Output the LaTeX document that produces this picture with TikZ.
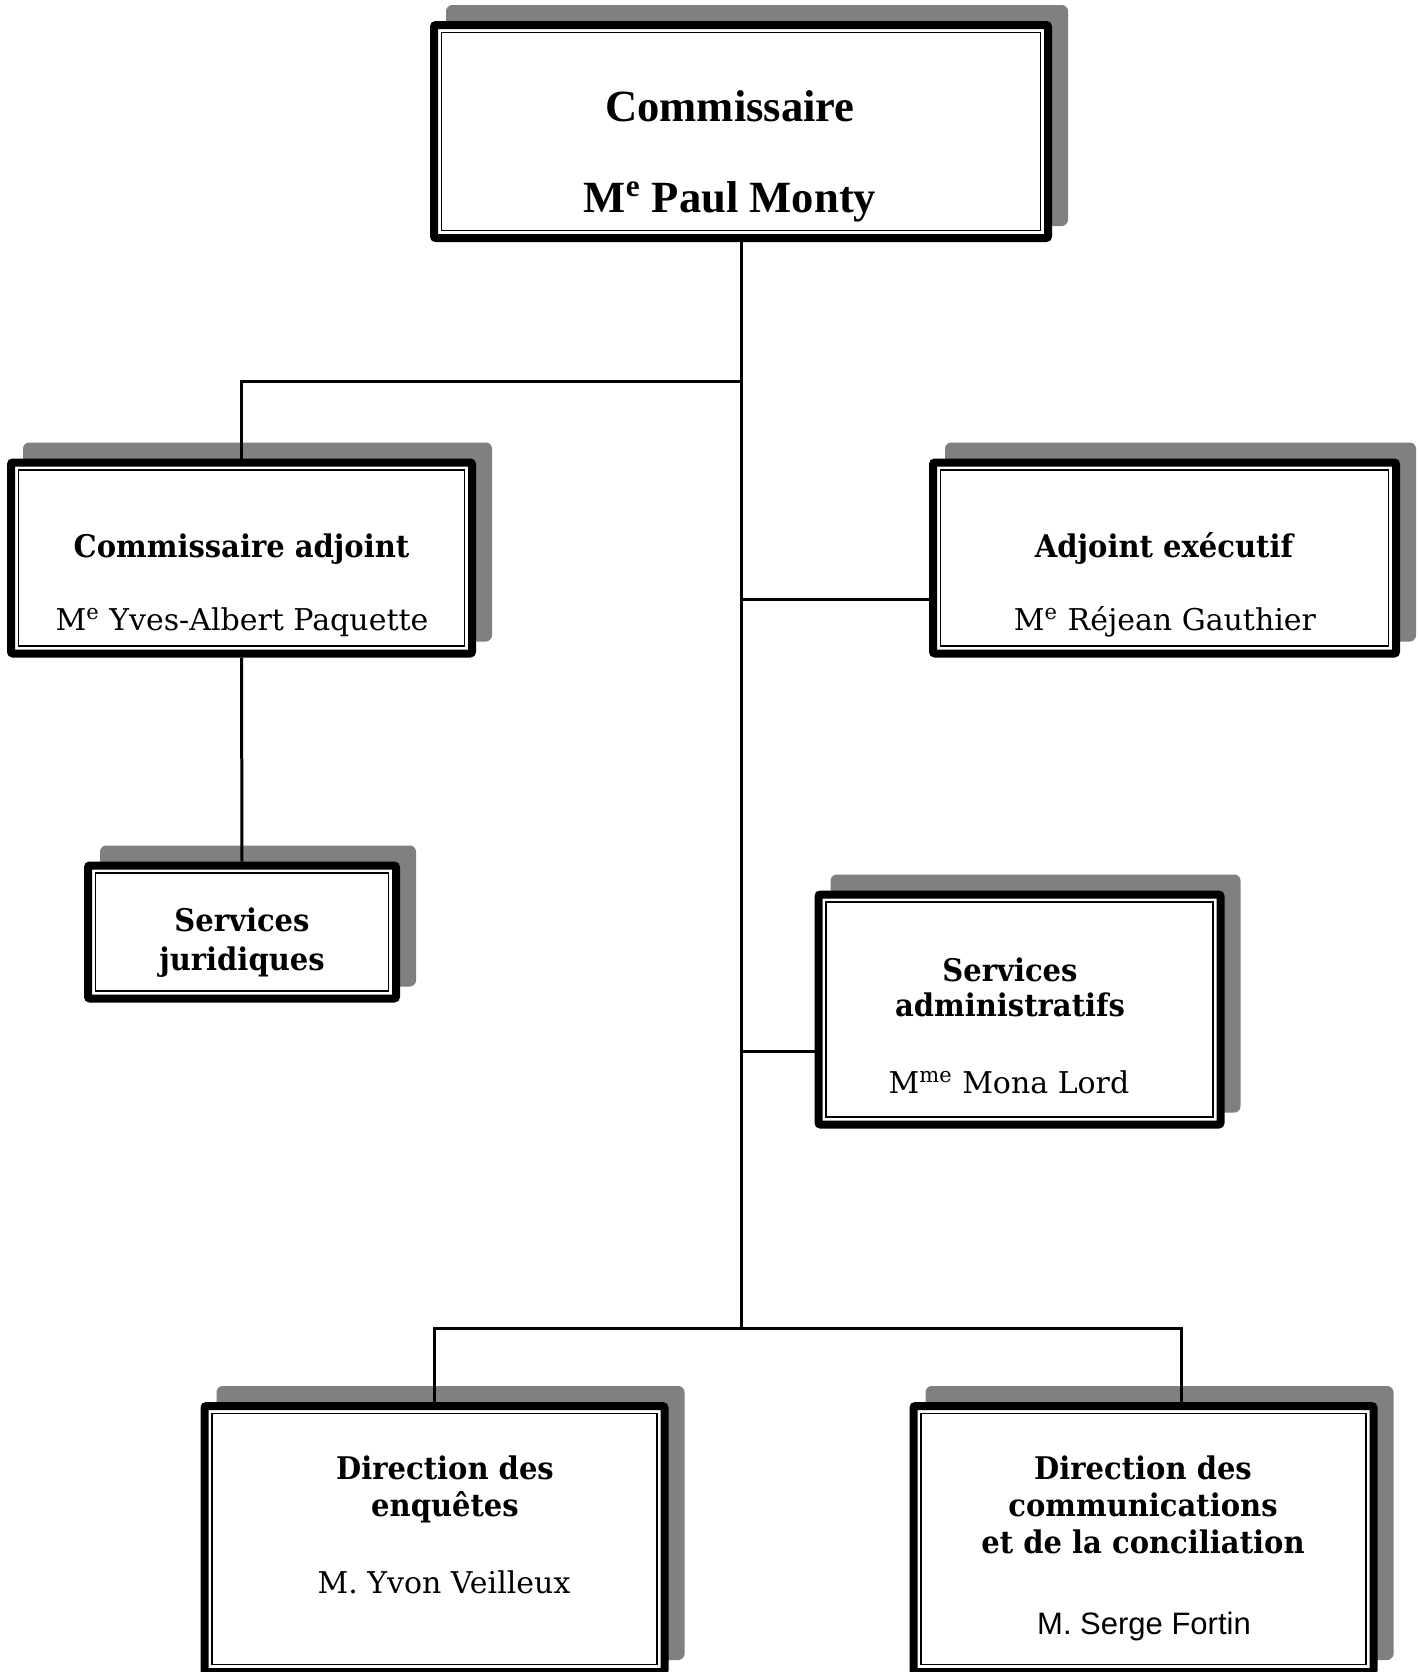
\documentclass[tikz,border=0pt]{standalone}
\usepackage{fontspec}
\setmainfont{DejaVu Serif}[BoldFeatures={FakeStretch=0.93}]
\newfontfamily\timesfont{Liberation Serif}
\newfontfamily\arialfont{Liberation Sans}
\usetikzlibrary{shadows}

\tikzset{
  unitbox/.style={draw, line width=4pt, fill=white, inner sep=0pt, rounded corners=1pt,
    drop shadow={shadow xshift=8pt, shadow yshift=8pt, fill=black!50, draw=black!50,
      line width=4pt, line join=round, opacity=1},
    path picture={\draw[line width=0.7pt, sharp corners]
      ([shift={(3.8pt,3.8pt)}]path picture bounding box.south west) rectangle
      ([shift={(-3.8pt,-3.8pt)}]path picture bounding box.north east);}},
  title/.style={anchor=base, inner sep=0pt, font=\bfseries\fontsize{15.6}{19}\selectfont},
  person/.style={anchor=base, inner sep=0pt, font=\fontsize{15}{18}\selectfont},
  chief/.style={anchor=base, inner sep=0pt, font=\timesfont\bfseries\fontsize{22.3}{26}\selectfont},
  link/.style={line width=1.5pt}
}

\begin{document}
\begin{tikzpicture}[x=0.5pt, y=-0.5pt]
  \useasboundingbox (0,0) rectangle (1418,1672);
  \clip (0,0) rectangle (1418,1672);

  % Boxes
  \node[unitbox, minimum width=307pt, minimum height=106.5pt] (boxtop) at (741,131.5) {};
  \node[unitbox, minimum width=230.5pt, minimum height=95.5pt] (boxca) at (241.5,558) {};
  \node[unitbox, minimum width=231.5pt, minimum height=95.5pt] (boxae) at (1164.5,558) {};
  \node[unitbox, minimum width=154pt, minimum height=66.5pt] (boxsj) at (242,932) {};
  \node[unitbox, minimum width=201pt, minimum height=115pt] (boxsa) at (1019.5,1009.5) {};
  \node[unitbox, minimum width=230pt, minimum height=133pt] (boxde) at (434.5,1539) {};
  \node[unitbox, minimum width=230pt, minimum height=133pt] (boxdc) at (1143.5,1539) {};

  % Joins on the trunk
  \coordinate (split) at (741,381);
  \coordinate (aejoin) at (741,599);
  \coordinate (sajoin) at (741,1051);
  \coordinate (bus) at (741,1328);
  \coordinate (dctop) at (1181,1406);

  % Links
  \draw[link] (boxtop.south) -- (bus);
  \draw[link] (split) -| (boxca.north);
  \draw[link] (aejoin) -- (aejoin -| boxae.west);
  \draw[link] (sajoin) -- (sajoin -| boxsa.west);
  \draw[link] (boxca.south) -- (boxsj.north);
  \draw[link] (bus) -| (boxde.north);
  \draw[link] (bus) -| (dctop);

  % Texts
  \node[chief] (topttl) at (730,121.5) {Commissaire};
  \node[chief] (topname) at (730,212) {M\textsuperscript{e} Paul Monty};

  \node[title] (cattl) at (241.5,557.6) {Commissaire adjoint};
  \node[person] (caname) at (242,630) {M\textsuperscript{e} Yves-Albert Paquette};

  \node[title] (aettl) at (1164,557.6) {Adjoint exécutif};
  \node[person] (aename) at (1165,630) {M\textsuperscript{e} Réjean Gauthier};

  \node[title] (sjttl) at (242,931) {Services};
  \node[title] (sjttlb) at (242,970) {juridiques};

  \node[title] (sattl) at (1010,981) {Services};
  \node[title] (sattlb) at (1010,1016) {administratifs};
  \node[person] (saname) at (1009,1093) {M\textsuperscript{me} Mona Lord};

  \node[title] (dettl) at (445,1479) {Direction des};
  \node[title] (dettlb) at (445,1516) {enquêtes};
  \node[person] (dename) at (444,1593) {M. Yvon Veilleux};

  \node[title] (dcttl) at (1143,1479) {Direction des};
  \node[title] (dcttlb) at (1143,1516) {communications};
  \node[title] (dcttlc) at (1143,1553) {et de la conciliation};
  \node[person, font=\arialfont\fontsize{15.5}{18}\selectfont] (dcname) at (1144,1634) {M. Serge Fortin};
\end{tikzpicture}
\end{document}
